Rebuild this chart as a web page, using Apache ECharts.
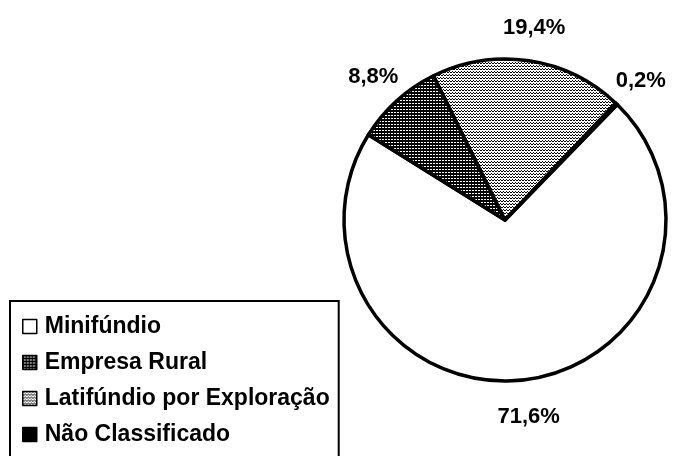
<!DOCTYPE html>
<html>
<head>
<meta charset="utf-8">
<script src="https://cdn.jsdelivr.net/npm/echarts@6/dist/echarts.min.js"></script>
<style>
  html, body { margin: 0; padding: 0; background: #fff; }
  #main { width: 682px; height: 456px; }
</style>
</head>
<body>
<div id="main"></div>
<script>
var categories = ['Minifúndio', 'Empresa Rural', 'Latifúndio por Exploração', 'Não Classificado'];
var values = [71.6, 8.8, 19.4, 0.2];
var valueLabels = ['71,6%', '8,8%', '19,4%', '0,2%'];

// dithered fills like the scanned original
function makePattern(bg, fg, dots) {
    var c = document.createElement('canvas');
    c.width = 3; c.height = 3;
    var ctx = c.getContext('2d');
    ctx.fillStyle = bg; ctx.fillRect(0, 0, 3, 3);
    ctx.fillStyle = fg;
    dots.forEach(function (d) { ctx.fillRect(d[0], d[1], 1, 1); });
    return { image: c, repeat: 'repeat' };
}
var fills = [
    '#ffffff',
    makePattern('#000000', '#ffffff', [[1, 1], [2, 1]]),
    makePattern('#ffffff', '#000000', [[0, 0], [1, 0], [2, 2]]),
    '#000000'
];

var myChart = echarts.init(document.getElementById('main'));
var font = '"Liberation Sans", Arial, sans-serif';

myChart.setOption({
    animation: false,
    backgroundColor: '#fff',
    legend: {
        data: categories,
        orient: 'vertical',
        left: 10,
        top: 301,
        height: 220,
        padding: [14, 9, 30, 12],
        borderColor: '#000',
        borderWidth: 2,
        itemWidth: 14,
        itemHeight: 14,
        itemGap: 13,
        icon: 'rect',
        itemStyle: { borderWidth: 1.5, borderColor: '#000' },
        textStyle: { fontFamily: font, fontWeight: 'bold', fontSize: 23, lineHeight: 23, color: '#000', padding: [0, 0, 0, 3] },
        selectedMode: false
    },
    series: [{
        type: 'pie',
        center: [505, 220],
        radius: 161,
        startAngle: 45.8,
        clockwise: true,
        silent: true,
        label: { show: false },
        labelLine: { show: false },
        itemStyle: { borderColor: '#000', borderWidth: 3.5 },
        data: categories.map(function (name, i) {
            return { name: name, value: values[i], itemStyle: { color: fills[i] } };
        })
    }, {
        type: 'pie',
        center: [505, 222],
        radius: [174, 212],
        startAngle: 45.8,
        clockwise: true,
        silent: true,
        itemStyle: { color: 'transparent' },
        label: {
            show: true,
            position: 'inside',
            formatter: '{b}',
            fontFamily: font,
            fontWeight: 'bold',
            fontSize: 22,
            color: '#000'
        },
        labelLine: { show: false },
        data: valueLabels.map(function (txt, i) {
            return { name: txt, value: values[i] };
        })
    }]
});
</script>
</body>
</html>
